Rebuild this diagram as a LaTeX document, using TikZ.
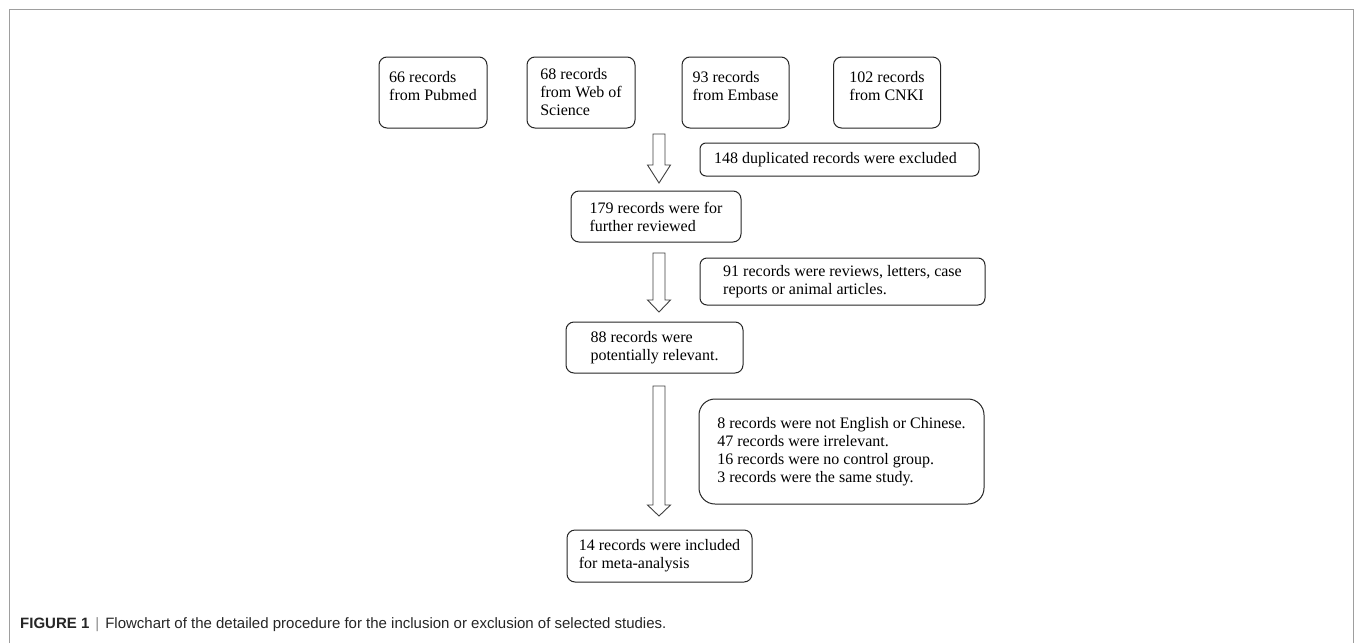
\documentclass[tikz,border=0pt]{standalone}
\usepackage{fontspec}
\setmainfont{Liberation Serif}
\newfontfamily\capfont{Liberation Sans}
\begin{document}
\begin{tikzpicture}[x=1pt,y=-1pt,
  box/.style={draw=black!85, line width=1pt, rounded corners=8pt, align=left,
    font=\fontsize{16}{18}\selectfont, inner ysep=0pt, inner xsep=4pt, text=black},
  blockarrow/.style={draw=black!75, line width=0.9pt, fill=white},
  frameline/.style={draw=black!38, line width=1.6pt}]
\useasboundingbox[fill=white] (0,0) rectangle (1355,643);
\draw[frameline] (9.3,643) -- (9.3,9.3) -- (1353.5,9.3) -- (1353.5,643);

% source boxes
\node[box, minimum width=108pt, minimum height=71pt] (b1) at (433,92.5) {66 records\\from Pubmed\\[-4pt]\mbox{}};
\node[box, minimum width=108pt, minimum height=71pt] (b2) at (581,92.5) {68 records\\from Web of\\Science};
\node[box, minimum width=107pt, minimum height=71pt] (b3) at (735.5,92.5) {93 records\\from Embase\\[-4pt]\mbox{}};
\node[box, minimum width=107pt, minimum height=71pt] (b4) at (887,92.5) {102 records\\from CNKI\hspace{10pt}\\[-4pt]\mbox{}};

% exclusion boxes
\node[box, rounded corners=6pt, minimum width=279pt, minimum height=33pt] (e1) at (839.5,159.5) {148 duplicated records were excluded\hspace{8pt}};
\node[box, rounded corners=7pt, minimum width=285pt, minimum height=47pt] (e2) at (842.5,281.5) {91 records were reviews, letters, case\hspace{6pt}\\reports or animal articles.};
\node[box, rounded corners=16pt, minimum width=285pt, minimum height=105pt] (e3) at (841.5,451.5) {8 records were not English or Chinese.\\47 records were irrelevant.\\16 records were no control group.\\3 records were the same study.};

% main flow boxes
\node[box, minimum width=170pt, minimum height=51pt] (r1) at (656,216.5) {179 records were for\\further reviewed};
\node[box, minimum width=177pt, minimum height=51pt] (r2) at (654.5,347.5) {88 records were\\potentially relevant.\hspace{12pt}};
\node[box, minimum width=185pt, minimum height=52pt] (r3) at (659.5,556) {14 records were included\\for meta-analysis};

% block arrows (hollow)
\newcommand\hollowarrow[4]{%
  \draw[blockarrow] (#1-6,#2) -- (#1+6,#2) -- (#1+6,#3) -- (#1+11.5,#3)
    -- (#1,#4) -- (#1-11.5,#3) -- (#1-6,#3) -- cycle;}
\hollowarrow{659}{134}{165}{183}
\hollowarrow{659}{253}{300}{312}
\hollowarrow{659}{386}{505}{516}

% caption
\node[anchor=base west, inner sep=0pt, font=\capfont\fontsize{15}{17}\selectfont, text=black!85] (cap) at (20,628)
  {\textbf{FIGURE 1}\hspace{6pt}{\color{black!45}|}\hspace{6pt}Flowchart of the detailed procedure for the inclusion or exclusion of selected studies.};
\end{tikzpicture}
\end{document}
